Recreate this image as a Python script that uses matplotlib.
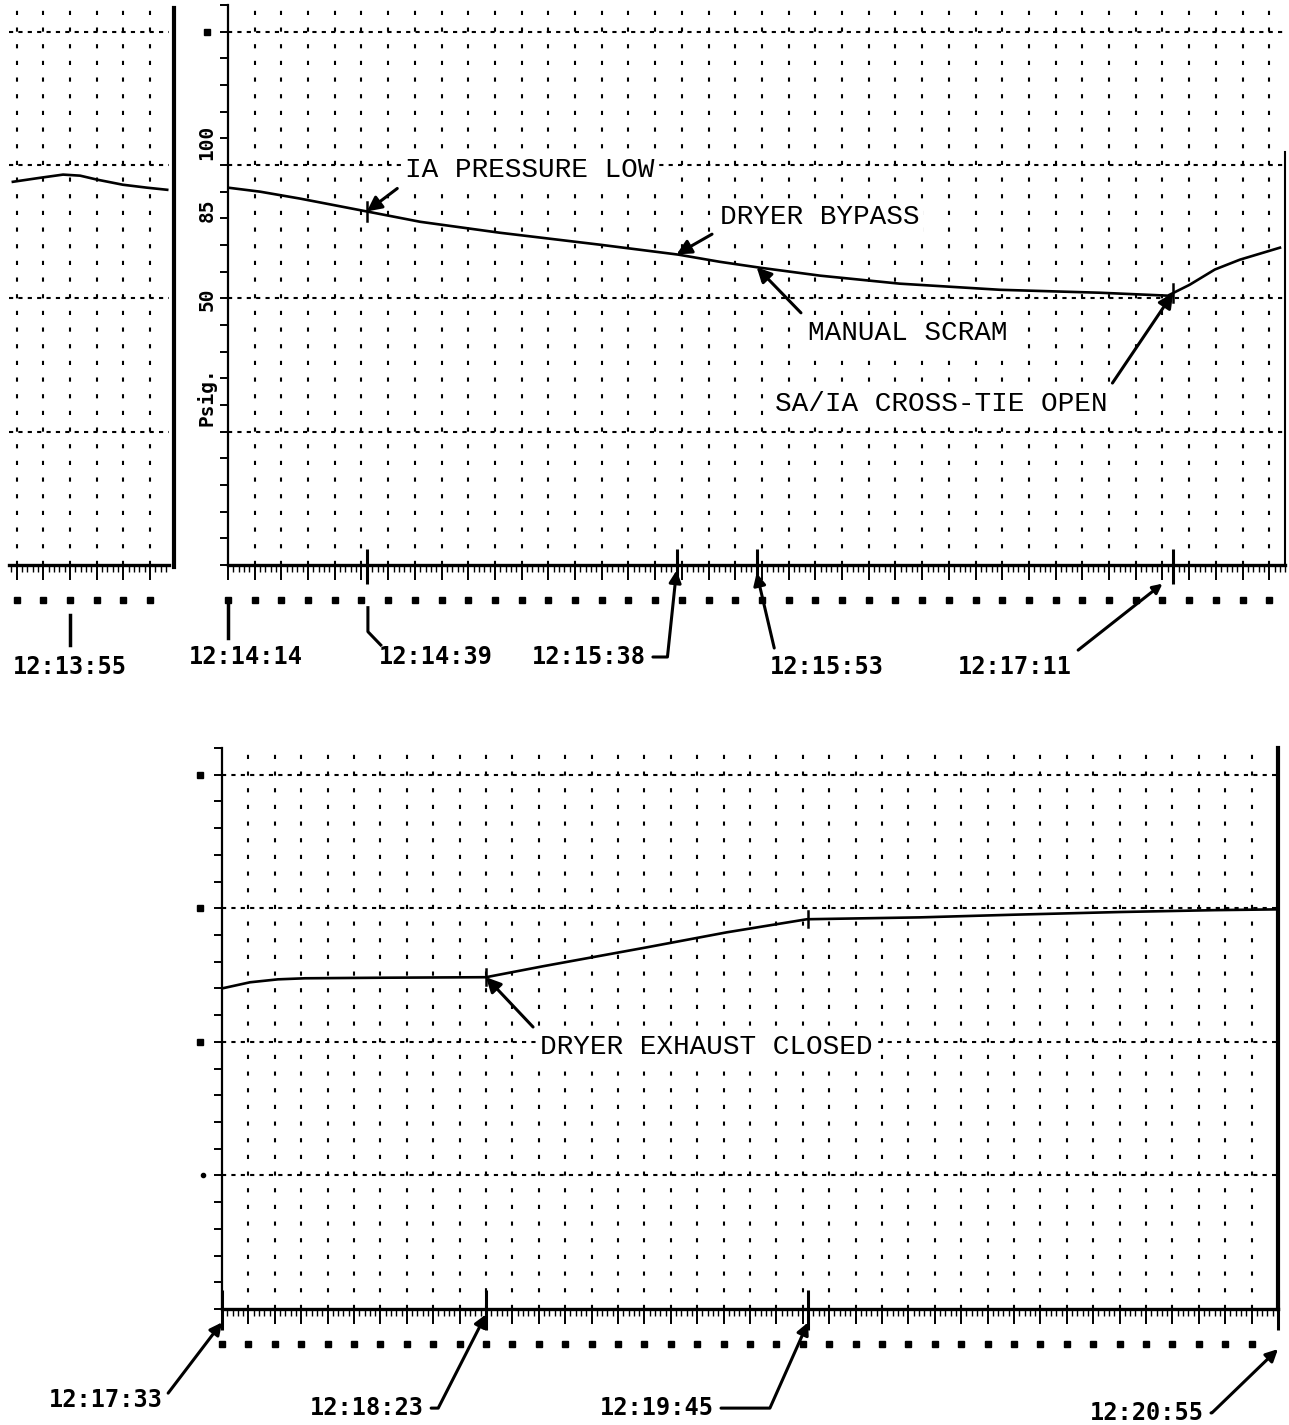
import numpy as np
import matplotlib.pyplot as plt
from matplotlib.lines import Line2D
from matplotlib.ticker import MultipleLocator

W, H = 1289, 1425

# --- values (psig vs. seconds of chart travel) ---
# left strip, seconds relative to 12:13:55
strip_time = [-10.7, -5.6, -1.3, 1.9, 5.1, 9.9, 14.4, 18.2]
strip_psig = [93.7, 95.2, 96.4, 96.0, 94.5, 92.6, 91.5, 90.7]

# upper chart, seconds after 12:14:14
top_time = [0, 6, 13.5, 26.2, 36, 50.9, 69.7, 84.3, 92.1, 99.6, 110.9, 125.8,
            144.6, 163.3, 176, 180.1, 184.8, 189.5, 197]
top_psig = [91.5, 90.0, 87.4, 82.5, 78.7, 74.6, 70.1, 66.4, 63.7, 61.5, 58.5,
            55.5, 53.2, 52.1, 51.0, 55.1, 60.8, 64.5, 69.0]

# lower chart, seconds of chart travel after 12:17:33
bot_time = [0, 5.3, 10.6, 15.7, 30, 50, 60.8, 80.5, 95.6, 110.8, 132.2, 150,
            170, 188, 200]
bot_psig = [70.0, 72.3, 73.4, 73.8, 74.0, 74.2, 78.3, 85.4, 91.0, 95.9, 96.6,
            97.6, 98.6, 99.3, 99.6]

# event positions on the chart paper
top_events = [26, 84, 99, 177]
bot_events = [0, 50, 111, 200]
top_trace_marks = [26, 177]
bot_trace_marks = [50, 111]

grid_levels = [150, 100, 50, 0]
top_scale_labels = ['100', '85', '50', 'Psig.']
top_scale_label_pos = [108.4, 82.9, 49.5, 13]

plt.rcParams['font.family'] = ['DejaVu Sans Mono', 'DejaVu Sans']

fig = plt.figure(figsize=(W / 100, H / 100), dpi=100)
fig.patch.set_facecolor('white')


def px_axes(x0, y0, x1, y1):
    # place an axes by its pixel box (y measured from the top)
    return fig.add_axes([x0 / W, 1 - y1 / H, (x1 - x0) / W, (y1 - y0) / H])


def style_panel(ax, t0, t1, left_axis=True):
    ax.set_xlim(t0, t1)
    ax.set_ylim(-50, 160)
    ax.set_facecolor('none')
    for s in ('top', 'right'):
        ax.spines[s].set_visible(False)
    ax.spines['left'].set_visible(left_axis)
    ax.spines['left'].set_linewidth(1.6)
    ax.spines['bottom'].set_linewidth(2.4)
    ax.xaxis.set_major_locator(MultipleLocator(5))
    ax.xaxis.set_minor_locator(MultipleLocator(1))
    ax.tick_params(axis='x', which='major', direction='out', length=11,
                   width=1.4, labelbottom=False)
    ax.tick_params(axis='x', which='minor', direction='out', length=5,
                   width=1.0)
    if left_axis:
        ax.yaxis.set_major_locator(MultipleLocator(10))
        ax.tick_params(axis='y', which='major', direction='out', length=6,
                       width=1.4, labelleft=False)
    else:
        ax.tick_params(axis='y', left=False, labelleft=False)

    # chart paper grid
    xs = np.arange(np.ceil(t0 / 5) * 5, t1, 5)
    xs = xs[xs > t0 + 1]
    ax.vlines(xs, -50, 160, colors='k', lw=1.5, linestyles=(0, (2, 6)),
              zorder=1)
    ax.hlines(grid_levels, t0, t1, colors='k', lw=1.5,
              linestyles=(0, (2, 2.5)), zorder=1)
    # row of sprocket dots under the ruler
    dots = np.arange(np.ceil(t0 / 5) * 5, t1 - 2, 5)
    ax.plot(dots, [-63] * len(dots), 's', ms=4.2, color='k', clip_on=False)


note_kw = dict(fontsize=20, family='Liberation Mono', ha='left', va='center',
               bbox=dict(facecolor='white', edgecolor='none', pad=3),
               zorder=3)
time_kw = dict(fontsize=17, family='DejaVu Sans Mono', weight='bold',
               ha='center', va='center', annotation_clip=False)


def arrow(relpos, scale=22, conn=None):
    d = dict(arrowstyle='-|>', color='k', lw=2.2, mutation_scale=scale,
             relpos=relpos, shrinkA=3, shrinkB=0)
    if conn is not None:
        d['connectionstyle'] = 'angle,angleA=0,angleB=%d,rad=0' % conn
    return d


# ---------------- left strip ----------------
ax_s = px_axes(8.6, 5, 168.8, 565)
style_panel(ax_s, -11.5, 18.5, left_axis=False)
ax_s.plot(strip_time, strip_psig, color='k', lw=1.9, zorder=4)
ax_s.plot([0, 0], [-68.7, -80], color='k', lw=2.5, clip_on=False)
ax_s.text(0, -88.2, '12:13:55', fontsize=17, family='DejaVu Sans Mono',
          weight='bold', ha='center', va='center')
fig.add_artist(Line2D([174 / W, 174 / W], [1 - 8 / H, 1 - 567 / H],
                      color='k', lw=3))

# ---------------- upper chart ----------------
ax_t = px_axes(228, 5, 1285.3, 565)
style_panel(ax_t, 0, 198)
ax_t.spines['right'].set_visible(True)
ax_t.spines['right'].set_bounds(-50, 105)
ax_t.spines['right'].set_linewidth(1.5)
ax_t.plot(top_time, top_psig, color='k', lw=1.9, zorder=4)

for lab, yv in zip(top_scale_labels, top_scale_label_pos):
    ax_t.text(-0.0199, yv, lab, transform=ax_t.get_yaxis_transform(),
              rotation=90, fontsize=14, weight='bold', ha='center',
              va='center')
ax_t.plot([-0.0199], [150], 's', ms=5, color='k',
          transform=ax_t.get_yaxis_transform(), clip_on=False)

ax_t.vlines(top_events, -44, -57, colors='k', lw=2.2, clip_on=False, zorder=4)
for t in top_trace_marks:
    p = np.interp(t, top_time, top_psig)
    ax_t.plot([t, t], [p - 3.5, p + 3.5], color='k', lw=1.8, zorder=4)

ax_t.annotate('IA PRESSURE LOW', xy=(26, np.interp(26, top_time, top_psig)),
              xytext=(33.1, 98.2), arrowprops=arrow((0, 0)), **note_kw)
ax_t.annotate('DRYER BYPASS', xy=(84, np.interp(84, top_time, top_psig)),
              xytext=(92.1, 80.6), arrowprops=arrow((0, 0)), **note_kw)
ax_t.annotate('MANUAL SCRAM', xy=(99, np.interp(99, top_time, top_psig)),
              xytext=(108.6, 37.0), arrowprops=arrow((0, 1)), **note_kw)
ax_t.annotate('SA/IA CROSS-TIE OPEN',
              xy=(177, np.interp(177, top_time, top_psig)),
              xytext=(102.4, 10.5), arrowprops=arrow((1, 1)), **note_kw)

# time stamps under the upper chart
ax_t.plot([0, 0], [-65, -77.4], color='k', lw=2.5, clip_on=False)
ax_t.text(3.4, -84.5, '12:14:14', fontsize=17, weight='bold',
          ha='center', va='center')
ax_t.plot([26.2, 26.2, 28.6], [-66, -75, -80], color='k', lw=2.2,
          clip_on=False)
ax_t.text(39.0, -84.5, '12:14:39', fontsize=17, weight='bold',
          ha='center', va='center')
ax_t.annotate('12:15:38', xy=(84, -52), xytext=(67.6, -84.5),
              arrowprops=arrow((1, 0.5), 18, 84), **time_kw)
ax_t.annotate('12:15:53', xy=(99, -53), xytext=(112.2, -88.2),
              arrowprops=arrow((0.05, 1), 18), **time_kw)
ax_t.annotate('12:17:11', xy=(175, -57), xytext=(147.4, -88.2),
              arrowprops=arrow((1, 1), 14), **time_kw)

# ---------------- lower chart ----------------
ax_b = px_axes(222, 748, 1278, 1309)
style_panel(ax_b, 0, 200)
ax_b.spines['right'].set_visible(True)
ax_b.spines['right'].set_linewidth(3)
ax_b.plot(bot_time, bot_psig, color='k', lw=1.9, zorder=4)
ax_b.plot([-0.021] * 3, [150, 100, 50], 's', ms=5, color='k',
          transform=ax_b.get_yaxis_transform(), clip_on=False)
ax_b.plot([-0.018], [0], 'o', ms=3, color='k',
          transform=ax_b.get_yaxis_transform(), clip_on=False)

ax_b.vlines(bot_events, -43, -58, colors='k', lw=2.2, clip_on=False, zorder=4)
for t in bot_trace_marks:
    p = np.interp(t, bot_time, bot_psig)
    ax_b.plot([t, t], [p - 3, p + 3], color='k', lw=1.8, zorder=4)

ax_b.annotate('DRYER EXHAUST CLOSED', xy=(50, np.interp(50, bot_time, bot_psig)),
              xytext=(60.2, 48), arrowprops=arrow((0, 1)), **note_kw)

ax_b.annotate('12:17:33', xy=(0, -55), xytext=(-22.0, -84.1),
              arrowprops=arrow((1, 0.5), 18), **time_kw)
ax_b.annotate('12:18:23', xy=(50, -52), xytext=(27.5, -87.1),
              arrowprops=arrow((1, 0.5), 18, 63), **time_kw)
ax_b.annotate('12:19:45', xy=(111, -55), xytext=(82.4, -87.1),
              arrowprops=arrow((1, 0.5), 18, 66), **time_kw)
ax_b.annotate('12:20:55', xy=(200, -65), xytext=(175.2, -88.9),
              arrowprops=arrow((1, 0.5), 18, 44), **time_kw)

fig.savefig('out.png', dpi=100, facecolor='white')
